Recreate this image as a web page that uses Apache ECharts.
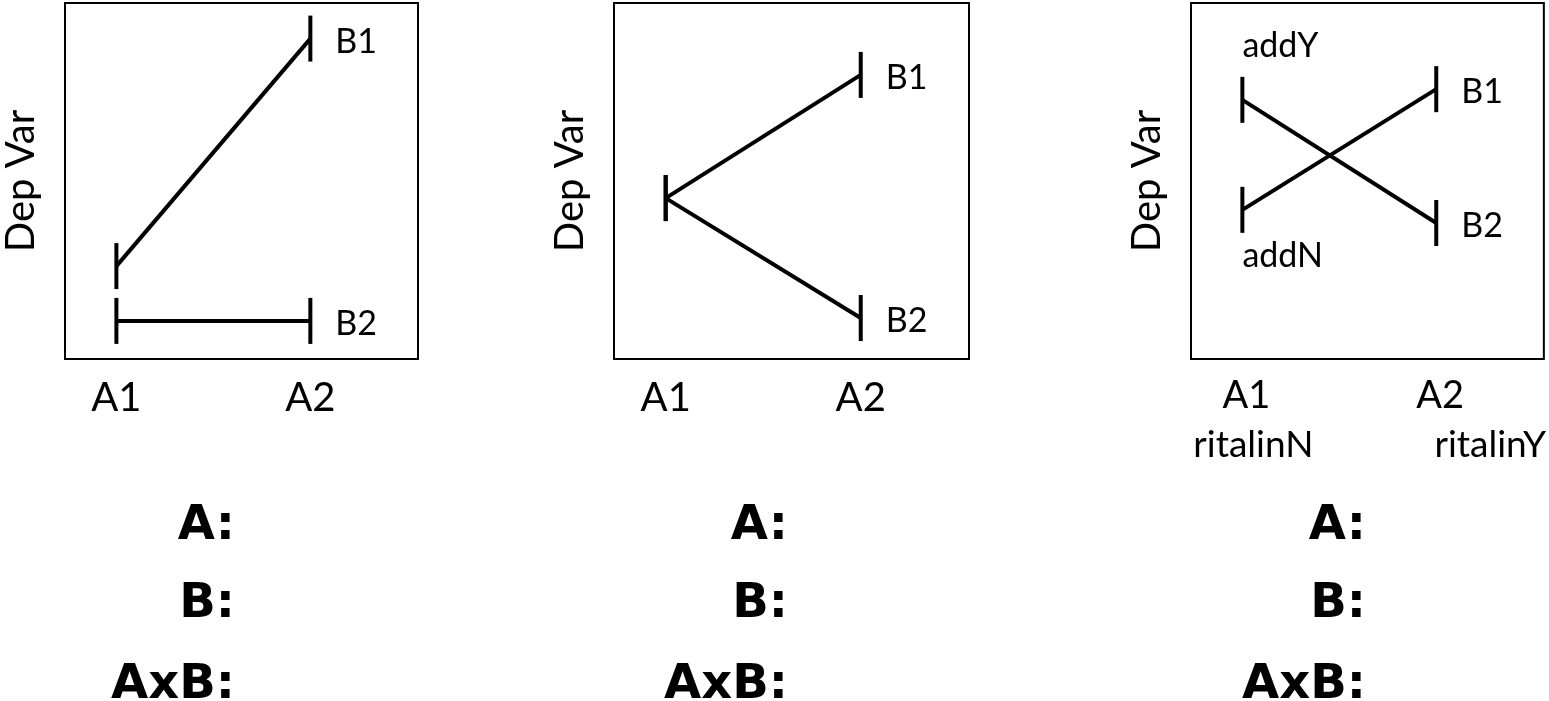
<!DOCTYPE html>
<html>
<head>
<meta charset="utf-8">
<script src="https://cdn.jsdelivr.net/npm/echarts@6/dist/echarts.min.js"></script>
<style>
html,body{margin:0;padding:0;background:#fff;}
#chart{width:1549px;height:701px;}
</style>
</head>
<body>
<div id="chart"></div>
<script>
// ---- data ----
var xValues = [1, 2];                 // A1, A2 positions
var xTickLabels = ['A1', 'A2'];
var xSubLabels3 = ['ritalinN', 'ritalinY'];
var seriesNames = ['B1', 'B2'];
// panel 1 (main effects, A and B)
var p1B1 = [26.1, 90.0];
var p1B2 = [10.7, 10.7];
// panel 2 (B and interaction)
var p2B1 = [45.2, 79.8];
var p2B2 = [45.2, 11.5];
// panel 3 (crossover)
var p3B1 = [41.9, 75.8];
var p3B2 = [72.8, 38.2];
var p3StartLabels = ['addN', 'addY'];
var yAxisName = 'Dep Var';
var effectLabels = ['A:', 'B:', 'AxB:'];

var FONT = 'Lato, "Open Sans", sans-serif';
var BOLDFONT = '"DejaVu Sans", sans-serif';

var panels = [
  { left: 64, width: 354, b1: p1B1, b2: p1B2, sub: null, tickSize: 40 },
  { left: 614, width: 355, b1: p2B1, b2: p2B2, sub: null, tickSize: 40 },
  { left: 1191, width: 357, b1: p3B1, b2: p3B2, sub: xSubLabels3, tickSize: 38 }
];

var grids = [], xAxes = [], yAxes = [], series = [];

panels.forEach(function (p, i) {
  grids.push({
    left: p.left, top: 3, width: p.width, height: 356,
    show: true, borderColor: '#000', borderWidth: 2, backgroundColor: 'transparent'
  });
  var axisLabel;
  if (p.sub) {
    axisLabel = {
      customValues: xValues,
      margin: 16,
      formatter: function (v) {
        var k = xValues.indexOf(v);
        return '{a|' + xTickLabels[k] + '}\n{' + (k === 0 ? 'r' : 's') + '|' + p.sub[k] + '}';
      },
      rich: {
        a: { fontFamily: FONT, fontSize: p.tickSize, color: '#000', lineHeight: 42, padding: [0, 0, 0, 8] },
        r: { fontFamily: FONT, fontSize: 37, color: '#000', lineHeight: 56, padding: [0, 0, 0, 22] },
        s: { fontFamily: FONT, fontSize: 37, color: '#000', lineHeight: 56, padding: [0, 0, 0, 108] }
      }
    };
  } else {
    axisLabel = {
      customValues: xValues,
      margin: 19,
      fontFamily: FONT, fontSize: p.tickSize, color: '#000',
      formatter: function (v) { return xTickLabels[xValues.indexOf(v)]; }
    };
  }
  xAxes.push({
    type: 'value', gridIndex: i, min: 0.735, max: 2.555,
    axisLine: { show: false }, axisTick: { show: false }, splitLine: { show: false },
    axisLabel: axisLabel
  });
  yAxes.push({
    type: 'value', gridIndex: i, min: 0, max: 100,
    axisLine: { show: false }, axisTick: { show: false }, splitLine: { show: false },
    axisLabel: { show: false },
    name: yAxisName, nameLocation: 'middle', nameRotate: 90, nameGap: 24,
    nameTextStyle: { fontFamily: FONT, fontSize: 40, color: '#000' }
  });

  [p.b1, p.b2].forEach(function (vals, s) {
    var data = vals.map(function (v, k) {
      var item = { value: [xValues[k], v] };
      if (k === 1) {
        item.label = {
          show: true, position: 'right', distance: 23, offset: [0, 3],
          formatter: seriesNames[s], fontFamily: FONT, fontSize: 34, color: '#000'
        };
      } else if (p.sub) {
        var above = (s === 1);
        item.label = {
          show: true, position: above ? 'top' : 'bottom', align: 'left',
          distance: above ? 14 : 6,
          formatter: p3StartLabels[s], fontFamily: FONT, fontSize: 34, color: '#000'
        };
      }
      return item;
    });
    series.push({
      type: 'line', name: seriesNames[s], xAxisIndex: i, yAxisIndex: i,
      data: data, symbol: 'rect', symbolSize: [4, 46],
      itemStyle: { color: '#000' },
      lineStyle: { color: '#000', width: 4 },
      label: { show: false },
      animation: false, silent: true, z: 3
    });
  });
});

var rightEdges = [235, 788, 1366];
var rowCenters = [527, 605, 686];
var graphics = [];
rightEdges.forEach(function (rx) {
  effectLabels.forEach(function (t, r) {
    graphics.push({
      type: 'text', x: rx, y: rowCenters[r],
      style: {
        text: t, fill: '#000', font: 'bold 48px ' + BOLDFONT,
        textAlign: 'right', textVerticalAlign: 'middle'
      }
    });
  });
});

var chart = echarts.init(document.getElementById('chart'), null, { renderer: 'canvas' });
chart.setOption({
  animation: false,
  backgroundColor: '#fff',
  grid: grids, xAxis: xAxes, yAxis: yAxes, series: series,
  graphic: graphics
});
</script>
</body>
</html>
